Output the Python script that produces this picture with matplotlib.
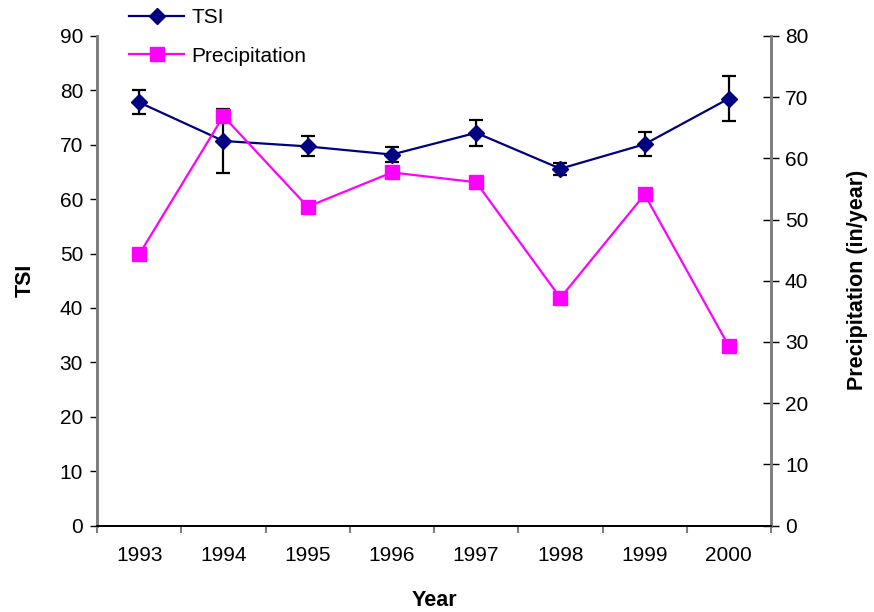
import matplotlib
matplotlib.use("Agg")
import matplotlib.pyplot as plt
from matplotlib.lines import Line2D
import numpy as np

plt.rcParams['font.family'] = ['Liberation Sans', 'DejaVu Sans']

years = ['1993', '1994', '1995', '1996', '1997', '1998', '1999', '2000']
tsi = [77.8, 70.7, 69.7, 68.2, 72.2, 65.6, 70.1, 78.5]
tsi_err = [2.2, 5.8, 1.85, 1.3, 2.4, 1.1, 2.2, 4.1]
precip = [44.3, 66.9, 52.1, 57.7, 56.1, 37.2, 54.1, 29.3]

W, H = 874, 612
fig = plt.figure(figsize=(W / 100, H / 100), dpi=100)
ax = fig.add_axes([97 / W, 1 - 525.5 / H, (771 - 97) / W, (525.5 - 36) / H])
ax2 = ax.twinx()

x = np.arange(len(years))
navy = '#000080'
magenta = '#FF00FF'
tick_fs = 15
label_fs = 15.5

ax.errorbar(x, tsi, yerr=tsi_err, fmt='none', ecolor='black', elinewidth=1.6,
            capsize=4.7, capthick=1.6, zorder=2)
ax.plot(x, tsi, color=navy, lw=1.6, marker='D', markersize=8.6,
        markerfacecolor=navy, markeredgecolor=navy, zorder=3)
ax2.plot(x, precip, color=magenta, lw=1.6, marker='s', markersize=9.6,
         markerfacecolor=magenta, markeredgecolor=magenta, zorder=3)

ax.set_xlim(-0.5, len(years) - 0.5)
ax.set_ylim(0, 90)
ax2.set_ylim(0, 80)
ax.set_yticks(np.arange(0, 91, 10))
ax2.set_yticks(np.arange(0, 81, 10))

# category labels centred in slots, ticks on slot boundaries
ax.set_xticks(np.arange(-0.5, len(years), 1.0))
ax.set_xticklabels([''] * (len(years) + 1))
ax.set_xticks(x, minor=True)
ax.set_xticklabels(years, minor=True)
ax.tick_params(axis='x', which='minor', length=0, labelsize=tick_fs, pad=15)
ax.tick_params(axis='x', which='major', length=5, width=1.5, color='#808080', direction='out')

ax.tick_params(axis='y', labelsize=tick_fs, length=5, width=1, direction='out', pad=5)
ax2.tick_params(axis='y', labelsize=tick_fs, length=12, width=1, direction='inout', pad=4)

for a in (ax, ax2):
    a.spines['top'].set_visible(False)
    a.spines['left'].set_color('#808080')
    a.spines['left'].set_linewidth(2)
    a.spines['right'].set_color('#808080')
    a.spines['right'].set_linewidth(2)
    a.spines['bottom'].set_color('black')
    a.spines['bottom'].set_linewidth(1.3)

fig.text(25 / W, 1 - 280 / H, 'TSI', rotation=90, ha='center', va='center',
         fontsize=label_fs, fontweight='bold')
fig.text(857 / W, 1 - 280 / H, 'Precipitation (in/year)', rotation=90,
         ha='center', va='center', fontsize=label_fs, fontweight='bold')
fig.text(434 / W, 1 - 600 / H, 'Year', ha='center', va='center',
         fontsize=label_fs, fontweight='bold')

handles = [
    Line2D([], [], color=navy, lw=1.6, marker='D', markersize=8.6,
           markerfacecolor=navy, markeredgecolor=navy),
    Line2D([], [], color=magenta, lw=1.6, marker='s', markersize=9.6,
           markerfacecolor=magenta, markeredgecolor=magenta),
]
fig.legend(handles, ['TSI', 'Precipitation'], loc='upper left',
           bbox_to_anchor=(129 / W, 1 - 8 / H), frameon=False,
           fontsize=15, handlelength=2.65, handletextpad=0.35,
           labelspacing=0.95, borderpad=0, borderaxespad=0)

fig.savefig('out.png', dpi=100)
